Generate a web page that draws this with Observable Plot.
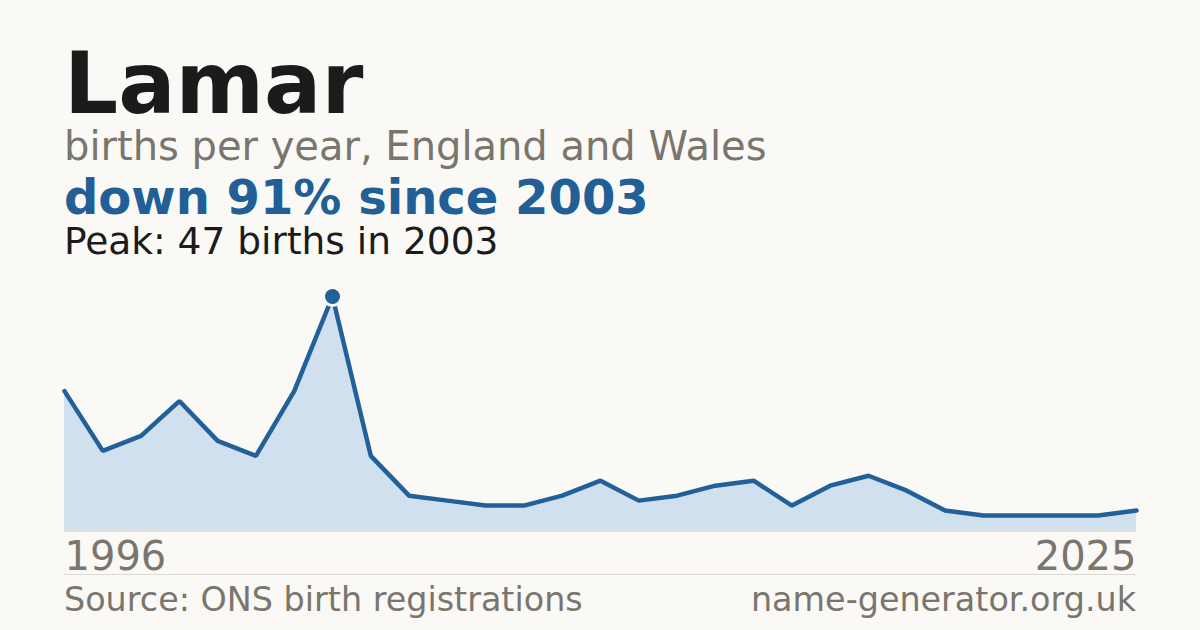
<!DOCTYPE html>
<html>
<head>
<meta charset="utf-8">
<script src="https://cdn.jsdelivr.net/npm/d3@7"></script>
<script src="https://cdn.jsdelivr.net/npm/@observablehq/plot@0.6"></script>
<style>
  html, body { margin: 0; padding: 0; background: #faf9f5; }
  body { width: 1200px; height: 630px; position: relative; overflow: hidden; font-family: "DejaVu Sans", sans-serif; }
  .t { position: absolute; left: 64px; line-height: 0.9; white-space: nowrap; }
  #title { top: 46px; font-size: 85px; font-weight: bold; color: #1b1b1b; }
  #subtitle { top: 127.7px; font-size: 40px; color: #7a756d; }
  #change { top: 176px; font-size: 48px; font-weight: bold; color: #215f96; }
  #peak { top: 224.5px; font-size: 37.5px; color: #1b1b1b; }
  #chart { position: absolute; left: 0; top: 270px; }
  #chart svg { overflow: visible; }
  #sep { position: absolute; left: 64px; width: 1072px; top: 574px; height: 1px; background: #dcd9d2; }
  #source { top: 584.5px; font-size: 33.4px; color: #7a756d; }
  #site { top: 584.5px; left: auto; right: 64px; font-size: 33.4px; color: #7a756d; }
</style>
</head>
<body>
<div class="t" id="title">Lamar</div>
<div class="t" id="subtitle">births per year, England and Wales</div>
<div class="t" id="change">down 91% since 2003</div>
<div class="t" id="peak">Peak: 47 births in 2003</div>
<div id="chart"></div>
<div id="sep"></div>
<div class="t" id="source">Source: ONS birth registrations</div>
<div class="t" id="site">name-generator.org.uk</div>
<script>
const births = [28, 16, 19, 26, 18, 15, 28, 47, 15, 7, 6, 5, 5, 7, 10, 6, 7, 9, 10, 5, 9, 11, 8, 4, 3, 3, 3, 3, 4];
const firstYearLabel = "1996";
const lastYearLabel = "2025";
const peakIndex = 7;

const data = births.map((v, i) => ({i, v}));
const peak = [data[peakIndex]];
const firstLabel = [{i: 0, label: firstYearLabel}];
const lastLabel = [{i: births.length - 1, label: lastYearLabel}];

const blue = "#22609a";
const bg = "#faf9f5";
const labelOpts = {x: "i", text: "label", frameAnchor: "bottom", lineAnchor: "bottom", dy: 39, fontSize: 40, fill: "#7a756d"};

const chart = Plot.plot({
  width: 1200,
  height: 315,
  marginLeft: 64,
  marginRight: 64,
  marginTop: 26,
  marginBottom: 55,
  style: {background: "transparent", fontFamily: "DejaVu Sans, sans-serif"},
  x: {domain: [0, births.length - 1], axis: null},
  y: {domain: [0, 47], axis: null},
  marks: [
    Plot.ruleY([0], {stroke: "#dcd9d2", strokeWidth: 1.5, dy: 0.5}),
    Plot.areaY(data, {x: "i", y: "v", fill: "#d0e0ef"}),
    Plot.line(data, {x: "i", y: "v", stroke: blue, strokeWidth: 4.5, strokeLinejoin: "miter"}),
    Plot.dot(peak, {x: "i", y: "v", r: 10.5, fill: bg, stroke: "none"}),
    Plot.dot(peak, {x: "i", y: "v", r: 7.5, fill: blue, stroke: "none"}),
    Plot.text(firstLabel, {...labelOpts, textAnchor: "start"}),
    Plot.text(lastLabel, {...labelOpts, textAnchor: "end"})
  ]
});
document.getElementById("chart").appendChild(chart);
</script>
</body>
</html>
